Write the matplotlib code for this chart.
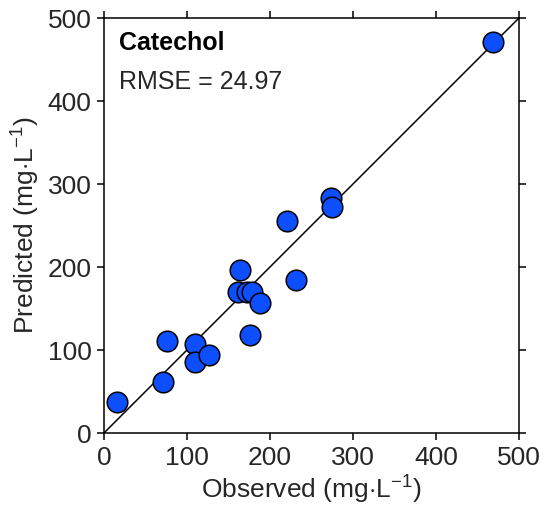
import matplotlib
matplotlib.use("Agg")
import matplotlib.pyplot as plt
import numpy as np

plt.rcParams['font.family'] = ['Liberation Sans', 'DejaVu Sans']
plt.rcParams['mathtext.fontset'] = 'custom'
plt.rcParams['mathtext.rm'] = 'Liberation Sans'
plt.rcParams['mathtext.it'] = 'Liberation Sans:italic'
plt.rcParams['mathtext.bf'] = 'Liberation Sans:bold'

# observed vs predicted values (mg/L)
observed = [16, 71, 76, 110, 110, 127, 176, 164, 161, 172, 178, 188, 231, 221, 273, 275, 469]
predicted = [37, 61, 111, 107, 85, 94, 118, 197, 170, 170, 170, 157, 184, 255, 283, 272, 471]
ticks = [0, 100, 200, 300, 400, 500]
title = "Catechol"
rmse_text = "RMSE = 24.97"

fs = 19
fig = plt.figure(figsize=(5.5, 5.25), dpi=100)
ax = fig.add_axes([0.189, 0.1752, 0.7546, 0.7905])

# 1:1 line
ax.plot([0, 500], [0, 500], color='black', lw=1.1, zorder=1)
ax.scatter(observed, predicted, s=220, color='#0d4fff', edgecolors='black',
           linewidths=1.1, zorder=2)

ax.set_xlim(0, 500)
ax.set_ylim(0, 500)
ax.set_xticks(ticks)
ax.set_yticks(ticks)
ax.tick_params(axis='both', direction='out', length=5, width=1.1,
               labelsize=fs, top=True, right=True, colors='black', pad=4)
ax.tick_params(labelcolor='#262626')
for sp in ax.spines.values():
    sp.set_linewidth(1.1)

ax.set_xlabel(r"Observed (mg$\cdot$L$^{-1}$)", fontsize=fs, color='#262626', labelpad=3)
ax.set_ylabel(r"Predicted (mg$\cdot$L$^{-1}$)", fontsize=fs, color='#262626', labelpad=4)

ax.text(18, 470, title, fontsize=18, fontweight='bold', va='center', ha='left')
ax.text(18, 423, rmse_text, fontsize=18, va='center', ha='left', color='#262626')

fig.savefig("out.png", dpi=100)
